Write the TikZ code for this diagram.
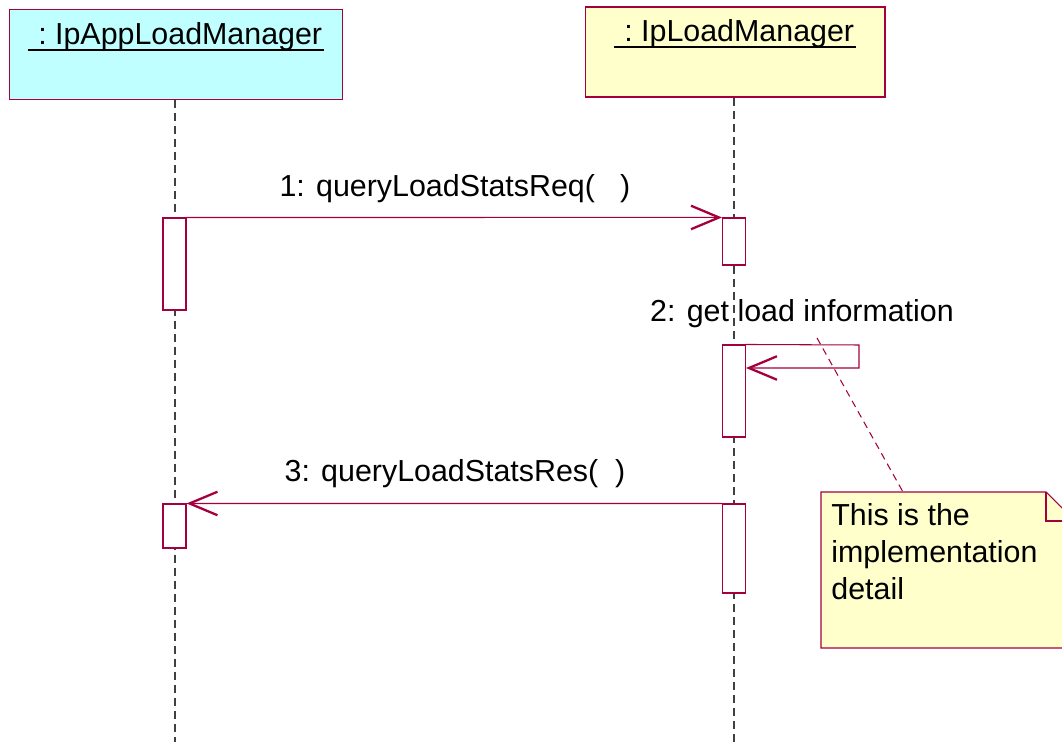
\documentclass[tikz,border=0pt]{standalone}
\usepackage{fontspec}
\setmainfont{Liberation Sans}
\usepackage{xcolor}
\usetikzlibrary{arrows.meta}
\definecolor{umlline}{RGB}{165,0,62}
\definecolor{objcyan}{RGB}{192,255,255}
\definecolor{objyellow}{RGB}{255,255,204}

\begin{document}
\begin{tikzpicture}[x=0.02cm,y=-0.02cm,
  font=\fontsize{17.3}{21}\selectfont,
  objbox/.style={draw=umlline,line width=0.6pt,minimum width=#1,minimum height=1.8cm,inner sep=0},
  act/.style={draw=umlline,fill=white,line width=0.6pt,minimum width=0.46cm,minimum height=#1,inner sep=0},
  lifeline/.style={draw=black!75,line width=0.6pt,dash pattern=on 0.16cm off 0.1cm},
  msg/.style={draw=umlline,line width=0.6pt,-{Straight Barb[length=0.56cm,width=0.47cm,line width=1.3pt]}},
  uline/.style={line width=1.3pt,shorten <=-1pt,shorten >=-1pt},
  lbl/.style={anchor=base,inner sep=0}]
\useasboundingbox (0,0) rectangle (1062,742);

% objects
\node [objbox=6.68cm,fill=objcyan] (app) at (176,54.5) {};
\node [lbl] (appname) at (176,45) {\ :\ IpAppLoadManager};
\draw [uline] ([yshift=-0.1cm]appname.base west) -- ([yshift=-0.1cm]appname.base east);
\node [objbox=6cm,fill=objyellow] (mgr) at (735,52) {};
\node [lbl] (mgrname) at (735,42) {\ :\ IpLoadManager};
\draw [uline] ([yshift=-0.1cm]mgrname.base west) -- ([yshift=-0.1cm]mgrname.base east);

% lifelines
\coordinate (append) at (175,742);
\coordinate (mgrend) at (734,742);
\draw [lifeline] (app.south -| append) -- (append);
\draw [lifeline] (mgr.south -| mgrend) -- (mgrend);

% activations
\node [act=1.84cm] (a1) at (174.5,264) {};
\node [act=0.94cm] (b1) at (734,241.5) {};
\node [act=1.84cm] (b2) at (734,391) {};
\node [act=0.88cm] (a2) at (174.5,526) {};
\node [act=1.78cm] (b3) at (734,548.5) {};

% messages
\draw [msg] (a1.north east) -- (b1.north west);
\node [lbl] (m1) at (455,197) {1: queryLoadStatsReq(\ \ \ )};
\coordinate (selfturn) at (859,345);
\coordinate (selfback) at (746,368);
\draw [msg] (b2.north east) -- (selfturn) |- (selfback);
\node [lbl] (m2) at (802,322) {2: get load information};
\draw [msg] (b3.north west) -- (a2.north east);
\node [lbl] (m3) at (455,482) {3: queryLoadStatsRes(\ \ )};

% note
\filldraw [draw=umlline,fill=objyellow,line width=0.6pt]
  (821,492) -- (1046,492) -- (1075,521) -- (1075,648) -- (821,648) -- cycle;
\draw [umlline,line width=0.6pt] (1046,492) -- (1046,521) -- (1075,521);
\node [anchor=north west,align=left,inner sep=0] (note) at (831,503)
  {This is the\\implementation\\detail};
\coordinate (notetip) at (817,338);
\coordinate (notetop) at (903,492);
\draw [umlline,line width=0.6pt,dash pattern=on 0.14cm off 0.1cm] (notetip) -- (notetop);
\end{tikzpicture}
\end{document}
